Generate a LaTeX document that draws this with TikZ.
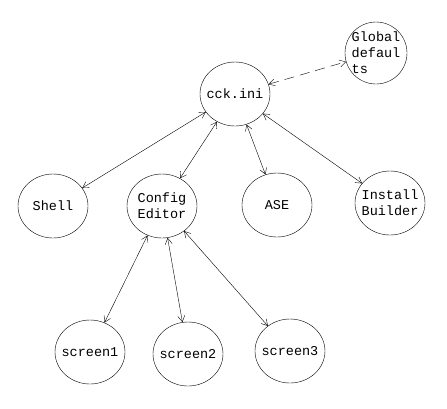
\documentclass[tikz,border=0pt]{standalone}
\usepackage{fontspec}
\setmonofont{Liberation Mono}
\usetikzlibrary{shapes.geometric}
\usetikzlibrary{arrows.meta}
\tikzset{
    % Thin open arrow heads on both ends
    >={Straight Barb[length=6pt, width=7pt]},
%
    bubble/.style={
        draw, ellipse, inner sep=-18pt, align=left,
        minimum width=70pt, minimum height=64pt,
        font=\ttfamily\fontsize{13.5}{16}\selectfont},
    link/.style={draw, thin, <->},
    loose link/.style={link, dash pattern=on 10pt off 6pt},
}
\begin{document}
\begin{tikzpicture}[x=1pt, y=-1pt]
    \useasboundingbox (0,0) rectangle (447,408);

    \node [bubble] (cck) at (235,94) {cck.ini};
    \node [bubble, minimum width=62pt, minimum height=62pt]
        (global) at (376,53) {Global\\defaul\\ts};
    \node [bubble] (shell) at (53,206) {Shell};
    \node [bubble] (config) at (162,206) {Config\\Editor};
    \node [bubble] (ase) at (277,205) {ASE};
    \node [bubble] (install) at (390,203) {Install\\Builder};
    \node [bubble] (screen1) at (90,352) {screen1};
    \node [bubble] (screen2) at (188,354) {screen2};
    \node [bubble] (screen3) at (290,351) {screen3};

    \path [loose link] (cck) -- (global);
    \path [link] (cck) -- (shell);
    \path [link] (cck) -- (config);
    \path [link] (cck) -- (ase);
    \path [link] (cck) -- (install);
    \path [link] (config) -- (screen1);
    \path [link] (config) -- (screen2);
    \path [link] (config) -- (screen3);
\end{tikzpicture}
\end{document}
